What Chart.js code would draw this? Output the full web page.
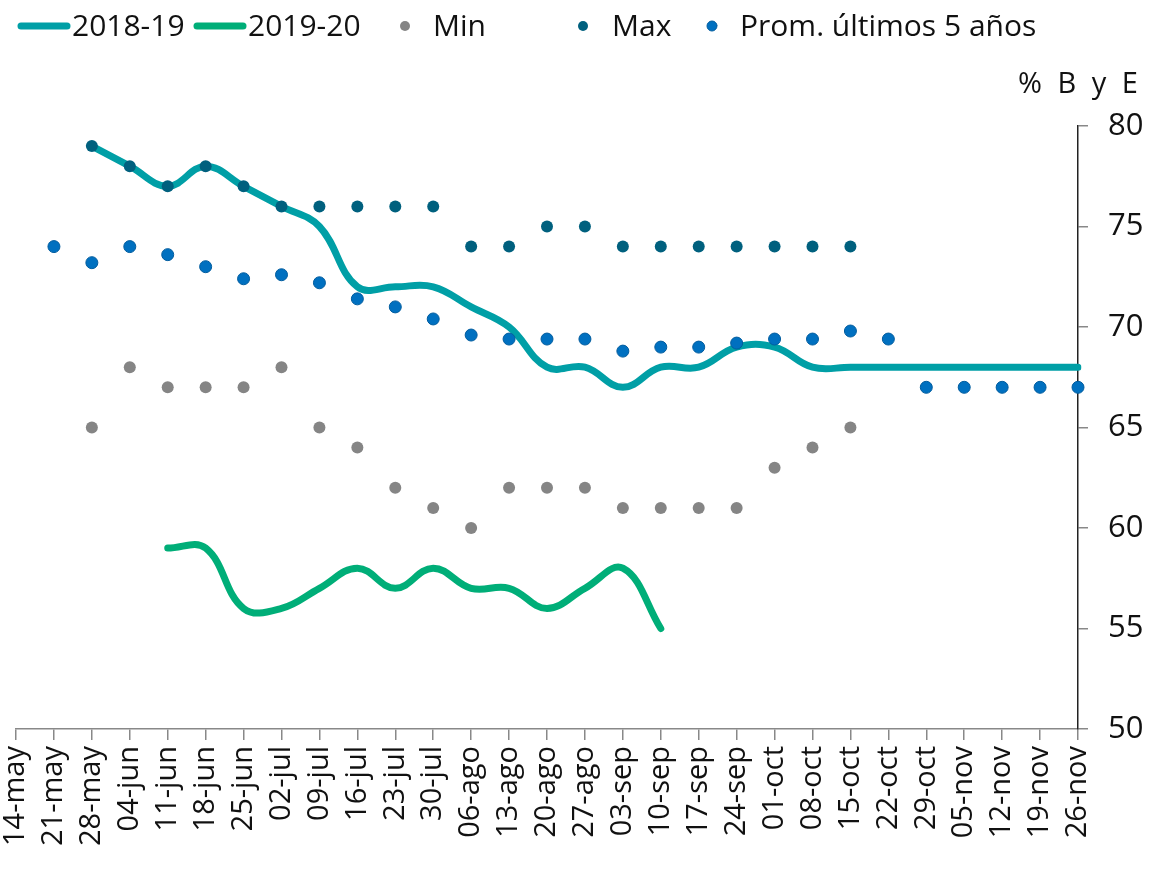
<!DOCTYPE html>
<html>
<head>
<meta charset="utf-8">
<script src="https://cdn.jsdelivr.net/npm/chart.js@4/dist/chart.umd.min.js"></script>
<style>
html,body{margin:0;padding:0;background:#fff;}
#wrap{width:1156px;height:869px;position:relative;}
</style>
</head>
<body>
<div id="wrap"><canvas id="c" width="1156" height="869"></canvas></div>
<script>
const categories = ["14-may","21-may","28-may","04-jun","11-jun","18-jun","25-jun","02-jul","09-jul","16-jul","23-jul","30-jul","06-ago","13-ago","20-ago","27-ago","03-sep","10-sep","17-sep","24-sep","01-oct","08-oct","15-oct","22-oct","29-oct","05-nov","12-nov","19-nov","26-nov"];
const s2018_19 = [null,null,79,78,77,78,77,76,75,72,72,72,71,70,68,68,67,68,68,69,69,68,68,68,68,68,68,68,68];
const s2019_20 = [null,null,null,null,59,59,56,56,57,58,57,58,57,57,56,57,58,55,null,null,null,null,null,null,null,null,null,null,null];
const minVals = [null,null,65,68,67,67,67,68,65,64,62,61,60,62,62,62,61,61,61,61,63,64,65,null,null,null,null,null,null];
const maxVals = [null,null,79,78,77,78,77,76,76,76,76,76,74,74,75,75,74,74,74,74,74,74,74,null,null,null,null,null,null];
const promVals = [null,74,73.2,74,73.6,73,72.4,72.6,72.2,71.4,71,70.4,69.6,69.4,69.4,69.4,68.8,69,69,69.2,69.4,69.4,69.8,69.4,67,67,67,67,67];
const yTicks = [50,55,60,65,70,75,80];
const seriesNames = ["2018-19","2019-20","Min","Max","Prom. últimos 5 años"];
const axisTitle = "% B y E";

const FONT = "'Open Sans', 'DejaVu Sans', sans-serif";
const C1 = "#009FA6", C2 = "#00AE78", CMIN = "#858585", CMAX = "#00607E", CPROM = "#0070C0", CPROMB = "#005C9E";

const legendPlugin = {
  id: 'customLegend',
  afterDraw(chart) {
    const ctx = chart.ctx;
    ctx.save();
    ctx.font = "30px " + FONT;
    ctx.fillStyle = "#111";
    ctx.textBaseline = "middle";
    ctx.textAlign = "left";
    const y = 26;
    const ty = 27;
    ctx.lineCap = "round";
    ctx.lineWidth = 7;
    ctx.strokeStyle = C1;
    ctx.beginPath(); ctx.moveTo(21, y); ctx.lineTo(67, y); ctx.stroke();
    ctx.fillText(seriesNames[0], 72, ty);
    ctx.strokeStyle = C2;
    ctx.beginPath(); ctx.moveTo(197, y); ctx.lineTo(243, y); ctx.stroke();
    ctx.fillText(seriesNames[1], 248, ty);
    const dot = (x, col, bcol) => {
      ctx.beginPath(); ctx.arc(x, y, 5, 0, Math.PI*2);
      ctx.fillStyle = col; ctx.fill();
      if (bcol) { ctx.lineWidth = 1; ctx.strokeStyle = bcol; ctx.stroke(); }
    };
    dot(405, CMIN);
    ctx.fillStyle = "#111"; ctx.fillText(seriesNames[2], 433, ty);
    dot(583, CMAX);
    ctx.fillStyle = "#111"; ctx.fillText(seriesNames[3], 612, ty);
    dot(712, CPROM, CPROMB);
    ctx.fillStyle = "#111"; ctx.fillText(seriesNames[4], 740, ty);
    // axis title
    ctx.textAlign = "left";
    ctx.font = "29px " + FONT;
    try { ctx.wordSpacing = "8px"; } catch (e) {}
    ctx.fillText(axisTitle, 1018, 85);
    ctx.restore();
  }
};

new Chart(document.getElementById('c'), {
  type: 'line',
  data: {
    labels: categories,
    datasets: [
      {label: seriesNames[0], data: s2018_19, borderColor: C1, borderWidth: 7, tension: 0.4, pointRadius: 0, order: 3, borderCapStyle: 'round'},
      {label: seriesNames[1], data: s2019_20, borderColor: C2, borderWidth: 7, tension: 0.4, pointRadius: 0, order: 3, borderCapStyle: 'round'},
      {label: seriesNames[2], data: minVals, showLine: false, pointRadius: 6, pointBackgroundColor: CMIN, pointBorderColor: CMIN, pointBorderWidth: 0, order: 1},
      {label: seriesNames[3], data: maxVals, showLine: false, pointRadius: 6, pointBackgroundColor: CMAX, pointBorderColor: CMAX, pointBorderWidth: 0, order: 1},
      {label: seriesNames[4], data: promVals, showLine: false, pointRadius: 6, pointBackgroundColor: CPROM, pointBorderColor: CPROMB, pointBorderWidth: 1, order: 1}
    ]
  },
  options: {
    responsive: false,
    animation: false,
    events: [],
    layout: {padding: {top: 126, left: 16, right: 0, bottom: 0}},
    plugins: {legend: {display: false}, tooltip: {enabled: false}},
    scales: {
      x: {
        offset: false,
        grid: {display: true, drawOnChartArea: false, drawTicks: true, tickLength: 11, color: "#888", lineWidth: 1.5},
        border: {display: true, color: "#888", width: 1.5},
        ticks: {autoSkip: false, maxRotation: 90, minRotation: 90, padding: 6, color: "#111", font: {size: 29, family: FONT}},
        afterFit(scale) { scale.height = 140; scale.paddingLeft = 0; scale.paddingRight = 0; }
      },
      y: {
        position: 'right',
        min: 50, max: 80,
        afterBuildTicks(scale) { scale.ticks = yTicks.map(v => ({value: v})); },
        grid: {display: true, drawOnChartArea: false, drawTicks: true, tickLength: 10, color: "#888", lineWidth: 1.5},
        border: {display: true, color: "#222", width: 1.5},
        ticks: {padding: 20, color: "#111", font: {size: 31, family: FONT}},
        afterFit(scale) { scale.width = 78; scale.paddingTop = 0; scale.paddingBottom = 0; }
      }
    }
  },
  plugins: [legendPlugin]
});
</script>
</body>
</html>
